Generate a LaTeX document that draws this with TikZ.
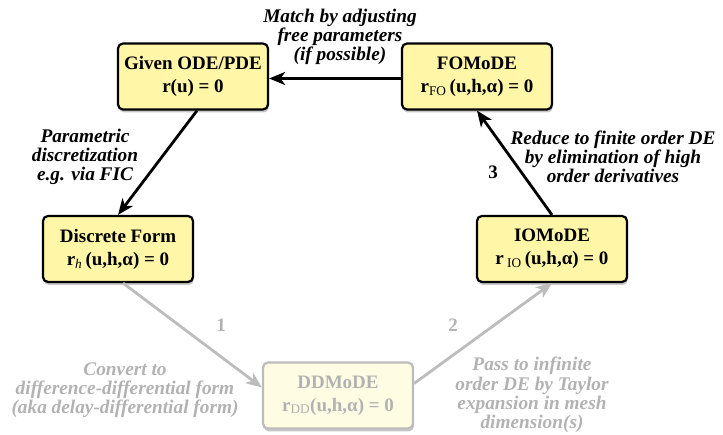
\documentclass[tikz,border=0pt]{standalone}
\usepackage{fontspec}
\setmainfont{Liberation Serif}
\usepackage{tikz}
\usetikzlibrary{arrows.meta, shadows}

\definecolor{boxyellow}{RGB}{255,246,168}
\definecolor{paleyellow}{RGB}{255,252,228}
\definecolor{fadegray}{RGB}{188,188,188}
\definecolor{fadetext}{RGB}{178,178,178}
\newcommand{\lowsub}[1]{\textsubscript{\normalfont #1}}

\begin{document}
\begin{tikzpicture}[x=1pt, y=1pt,
    box/.style={rectangle, rounded corners=5pt, draw, line width=2.2pt, fill=boxyellow,
        minimum width=150pt, minimum height=66pt, align=center,
        font=\fontsize{19}{23}\selectfont\bfseries,
        drop shadow={shadow xshift=0.8pt, shadow yshift=-3pt, fill=black!22, opacity=1}},
    fadebox/.style={box, draw=fadegray, fill=paleyellow, text=fadetext, drop shadow={opacity=0}},
    lbl/.style={align=center, font=\fontsize{19.3}{19.3}\selectfont\bfseries\itshape},
    num/.style={font=\fontsize{19}{22}\selectfont\bfseries},
    link/.style={-{Stealth[length=16pt, width=13pt, inset=4.5pt]}, line width=2.8pt}]
    \useasboundingbox (0,0) rectangle (723,435);

    \node[box] (given) at (193,358.5) {Given ODE/PDE\\r(u) = 0};
    \node[box] (fo) at (477,358.5) {FOMoDE\\r\lowsub{FO}\,(u,h,α) = 0};
    \node[box] (discrete) at (118,186) {Discrete Form\\r\lowsub{\itshape h}\,(u,h,α) = 0};
    \node[box] (io) at (552,186) {IOMoDE\\r\,\lowsub{IO}\,(u,h,α) = 0};
    \node[fadebox] (dd) at (338,39.5) {DDMoDE\\r\lowsub{DD}(u,h,α) = 0};

    \draw[link] ([yshift=-2pt]fo.west) -- ([yshift=-2pt]given.east);
    \draw[link] ([xshift=4pt]given.south) -- (discrete.north);
    \draw[link] (io.north) -- (fo.south);
    \draw[link, draw=fadegray] ([xshift=5pt]discrete.south) -- ([yshift=8pt]dd.west);
    \draw[link, draw=fadegray] ([yshift=12pt]dd.east) -- (io.south);

    \node[lbl] (match) at (340,398) {Match by adjusting\\free parameters\\(if possible)};
    \node[lbl] (param) at (85,278) {Parametric\\discretization\\e.g. via FIC};
    \node[lbl] (reduce) at (613,278) {Reduce to finite order DE\\by elimination of high\\order derivatives};
    \node[lbl, text=fadetext] (convert) at (125,45) {Convert to\\difference-differential form\\(aka delay-differential form)};
    \node[lbl, text=fadetext] (pass) at (532,40) {Pass to infinite\\order DE by Taylor\\expansion in mesh\\dimension(s)};

    \node[num, text=fadetext] (one) at (221,110) {1};
    \node[num, text=fadetext] (two) at (453,110) {2};
    \node[num] (three) at (493,263) {3};
\end{tikzpicture}
\end{document}
